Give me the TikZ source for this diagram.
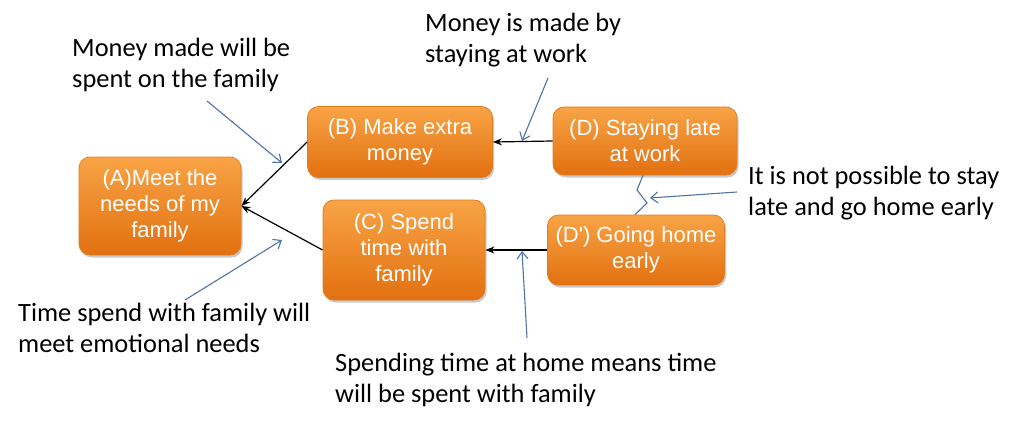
\documentclass[tikz,border=0pt]{standalone}
\usepackage{fontspec}
\setmainfont{Carlito}
\newfontfamily\boxfont{Liberation Sans}
\usepackage{xcolor}
\usepackage{tikz}
\usetikzlibrary{arrows.meta, positioning, calc, shadows}

\definecolor{boxtop}{RGB}{248,164,70}
\definecolor{boxbot}{RGB}{226,112,16}
\definecolor{boxline}{RGB}{230,124,32}
\definecolor{noteblue}{RGB}{79,115,165}

\begin{document}
\begin{tikzpicture}[x=1pt, y=-1pt, >=Stealth,
    box/.style={draw=boxline, line width=0.8pt, rounded corners=11pt, top color=boxtop, bottom color=boxbot,
      drop shadow={shadow xshift=1.5pt, shadow yshift=-2.5pt, opacity=0.35, fill=black!60},
      align=center, text=white, inner sep=0pt, font=\boxfont\fontsize{22}{26}\selectfont},
    link/.style={-{Stealth[length=9pt, width=7pt]}, line width=1.2pt, black},
    note/.style={-{Straight Barb[length=7pt, width=11pt]}, line width=1.1pt, noteblue},
    label/.style={align=left, inner sep=0pt, anchor=base west, font=\fontsize{26.4}{31}\selectfont}]
    \useasboundingbox (0,0) rectangle (1024,425);
        \node[box, minimum width=162pt, minimum height=98pt] (A) at (160,206) {(A)Meet the\\ needs of my\\ family};
        \node[box, minimum width=185pt, minimum height=71pt] (B) at (400,142) {(B) Make extra\\ money};
        \node[box, minimum width=162pt, minimum height=100pt] (C) at (404,250) {(C) Spend\\ time with\\ family};
        \node[box, minimum width=184pt, minimum height=68pt] (D) at (645,141) {(D) Staying late\\ at work};
        \node[box, minimum width=177pt, minimum height=70pt] (Dp) at (636,250) {(D') Going home\\ early};
        \node[label] (tMoney) at (72,88) {Money made will be\\ spent on the family};
        \node[label] (tWork) at (425,63) {Money is made by\\ staying at work};
        \node[label] (tTime) at (18,352) {Time spend with family will\\ meet emotional needs};
        \node[label] (tHome) at (335,402) {Spending time at home means time\\ will be spent with family};
        \node[label] (tConflict) at (748,215) {It is not possible to stay\\ late and go home early};
        \draw[link] (B.west) -- (A.east);
        \draw[link] (C.west) -- (A.east);
        \draw[link] (D.west) -- (B.east);
        \draw[link] (Dp.west) -- (C.east);
        \draw[noteblue, line width=1.1pt] ([xshift=-2pt]D.south) -- (637,190) -- (647,203) -- ([xshift=-1pt]Dp.north);
        \coordinate (mFrom) at (207,101);
        \coordinate (mTo) at (282,163);
        \coordinate (wFrom) at (548,78);
        \coordinate (wTo) at (522,141);
        \coordinate (sFrom) at (185,300);
        \coordinate (sTo) at (282,240);
        \coordinate (hFrom) at (527,338);
        \coordinate (hTo) at (522,251);
        \coordinate (cFrom) at (737,192);
        \coordinate (cTo) at (650,198);
        \draw[note] (mFrom) -- (mTo);
        \draw[note] (wFrom) -- (wTo);
        \draw[note] (sFrom) -- (sTo);
        \draw[note] (hFrom) -- (hTo);
        \draw[note] (cFrom) -- (cTo);
    \end{tikzpicture}
\end{document}
